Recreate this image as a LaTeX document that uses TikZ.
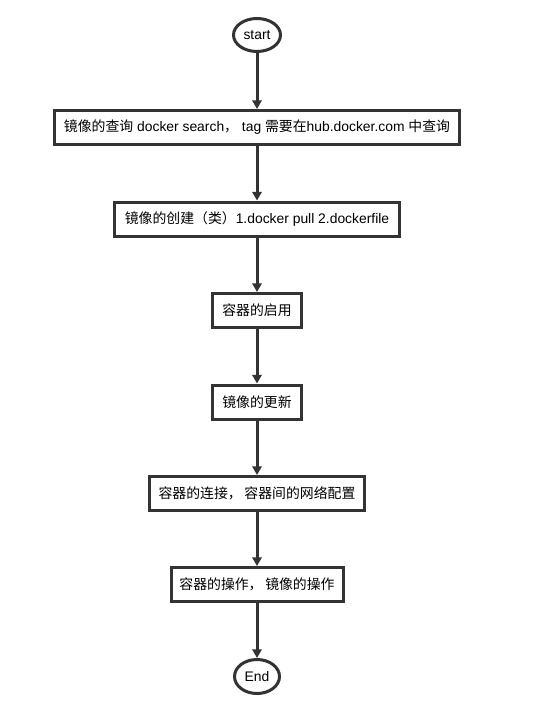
\documentclass[tikz,border=0pt]{standalone}
\usepackage{fontspec}
\setmainfont{Liberation Sans}
\newfontfamily\cjk{Noto Sans CJK SC}
\usepackage{tikz}
\usetikzlibrary{arrows.meta, shapes.geometric}
\definecolor{griscito}{RGB}{51,51,51}
\tikzset{>={Triangle[width=7pt,length=6.5pt]}}
\tikzset{caja/.style={draw=griscito, line width=2.25pt, fill=white, inner sep=0pt, minimum height=25.5pt, font=\fontsize{10.4}{12}\selectfont},
	ovalo/.style={ellipse, draw=griscito, line width=2.25pt, fill=white, inner sep=0pt, font=\fontsize{10.4}{12}\selectfont},
	flecha/.style={->, draw=griscito, line width=2.25pt}}

\begin{document}
\begin{tikzpicture}[x=0.75pt,y=-0.75pt]
	
	\useasboundingbox (0,0) rectangle (534,706);
	\node [ovalo, minimum width=35.25pt, minimum height=24.75pt] (start) at (257,35) {start};
	\node [caja, minimum width=303.75pt] (search) at (257,127.5) {{\cjk 镜像的查询} docker search{\cjk ，} tag {\cjk 需要在}hub.docker.com {\cjk 中查询}};
	\node [caja, minimum width=213.75pt] (create) at (257,219) {{\cjk 镜像的创建（类）}1.docker pull 2.dockerfile};
	\node [caja, minimum width=66.75pt] (run) at (257,310.5) {\cjk 容器的启用};
	\node [caja, minimum width=66.75pt] (update) at (257,402) {\cjk 镜像的更新};
	\node [caja, minimum width=161.25pt] (link) at (257,493.5) {\cjk 容器的连接，\hspace{2pt}容器间的网络配置};
	\node [caja, minimum width=129pt] (ops) at (257,584.5) {\cjk 容器的操作，\hspace{2pt}镜像的操作};
	\node [ovalo, minimum width=33.75pt, minimum height=25.5pt] (stop) at (257,676.5) {End};
	%flechas
	\draw [flecha] (start) -- (search);
	\draw [flecha] (search) -- (create);
	\draw [flecha] (create) -- (run);
	\draw [flecha] (run) -- (update);
	\draw [flecha] (update) -- (link);
	\draw [flecha] (link) -- (ops);
	\draw [flecha] (ops) -- (stop);
\end{tikzpicture}
\end{document}
